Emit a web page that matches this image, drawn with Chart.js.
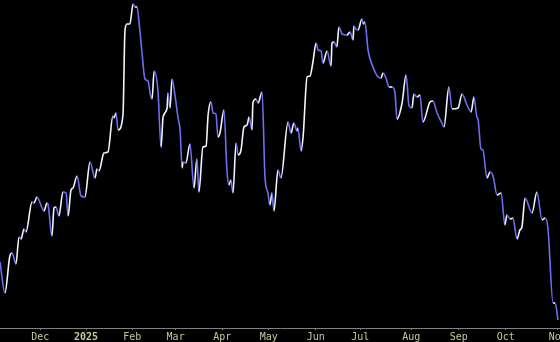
<!DOCTYPE html>
<html>
<head>
<meta charset="utf-8">
<script src="https://cdn.jsdelivr.net/npm/chart.js@4.4.1/dist/chart.umd.min.js"></script>
<style>
  html, body { margin: 0; padding: 0; background: #000; }
  #wrap { width: 560px; height: 342px; }
</style>
</head>
<body>
<div id="wrap"><canvas id="myChart"></canvas></div>
<script>
// trading day index and closing level
let days = [
  0, 2.2, 4.5, 5.4, 7.1, 8.5, 9.4, 10.7, 11.6, 14.3, 15.2, 16.5, 18.8, 19.6, 21.0, 21.4,
  23.2, 24.1, 25.0, 26.3, 28.1, 29.5, 30.4, 31.7, 32.6, 34.4, 36.2, 37.9, 40.2, 42.4, 43.3, 44.2,
  46.4, 48.2, 50.4, 50.9, 51.8, 52.7, 54.9, 55.8, 56.7, 58.0, 59.4, 60.3, 61.2, 62.1, 63.4, 64.7,
  66.1, 67.0, 67.9, 68.8, 70.5, 71.9, 72.8, 74.6, 75.0, 75.9, 76.8, 78.1, 79.5, 80.4, 81.3, 81.7,
  83.0, 84.8, 86.6, 87.9, 88.8, 90.6, 92.0, 92.9, 94.2, 95.1, 96.4, 97.3, 98.2, 100.0, 101.3, 102.2,
  103.1, 104.0, 105.4, 106.3, 107.6, 108.9, 110.3, 111.2, 112.5, 112.9, 114.3, 115.2, 117.0, 118.3, 119.6, 120.5,
  121.4, 122.3, 124.1, 125.4, 128.6, 129.9, 131.2, 132.6, 133.0, 134.4, 135.3, 137.1, 138.4, 139.7, 141.1, 142.0,
  143.3, 144.2, 146.0, 147.8, 148.2, 149.1, 150.4, 151.3, 152.7, 154.9, 156.3, 157.6, 158.0, 158.9, 159.8, 161.6,
  162.1, 162.9, 164.3, 166.5, 168.8, 170.1, 171.0, 172.3, 173.7, 175.0, 176.3, 177.2, 179.5, 181.3, 182.6, 183.9,
  184.8, 186.2, 187.5, 188.8, 192.0, 193.3, 195.1, 197.3, 198.2, 200.4, 201.8, 204.5, 206.3, 208.5, 210.3, 211.6,
  212.9, 213.4, 214.7, 215.6, 217.4, 218.8, 220.1, 221.9, 223.7, 225.4, 226.3, 227.7, 229.0, 230.8, 232.1, 233.0,
  234.4, 237.5, 239.7, 242.0, 243.3, 244.6, 246.9, 247.8, 249.1
];
let closes = [
  66, 35, 73, 75, 64, 91, 89, 99, 96, 126, 125, 131, 120, 117, 125, 124,
  92, 120, 121, 112, 136, 135, 112, 138, 140, 152, 132, 131, 166, 150, 159, 157,
  175, 176, 212, 210, 215, 198, 213, 298, 304, 304, 324, 321, 321, 305, 275, 249,
  247, 235, 229, 257, 238, 181, 211, 220, 235, 220, 249, 233, 210, 198, 160, 166,
  165, 184, 140, 169, 136, 181, 182, 213, 226, 215, 214, 191, 195, 218, 158, 143,
  148, 135, 185, 173, 178, 201, 203, 211, 198, 225, 229, 225, 236, 151, 135, 123,
  135, 117, 158, 150, 206, 195, 205, 197, 200, 177, 191, 251, 252, 266, 285, 278,
  277, 265, 277, 262, 285, 286, 281, 301, 294, 293, 296, 288, 302, 299, 298, 309,
  304, 306, 278, 261, 251, 250, 255, 250, 241, 241, 236, 209, 225, 253, 222, 220,
  234, 231, 233, 206, 226, 227, 215, 205, 201, 241, 219, 220, 234, 223, 216, 231,
  211, 209, 179, 178, 150, 156, 152, 133, 135, 103, 113, 109, 110, 89, 98, 101,
  130, 115, 136, 108, 110, 100, 25, 25, 8
];
// month starts on the trading day axis
let monthDays = [18, 38.4, 59, 78.4, 99.2, 120, 141, 160.8, 183.6, 204.8, 225.8, 249];
let monthLabels = ['Dec', '2025', 'Feb', 'Mar', 'Apr', 'May', 'Jun', 'Jul', 'Aug', 'Sep', 'Oct', 'Nov'];

function createChart(){
  const ctx = document.getElementById('myChart');
  const points = days.map((d, i) => ({ x: d, y: closes[i] }));

  new Chart(ctx, {
    type: 'line',
    data: {
      datasets: [{
        data: points,
        borderWidth: 1.6,
        pointRadius: 0,
        cubicInterpolationMode: 'monotone',
        borderColor: '#ffffff',
        segment: {
          borderColor: c => c.p1.parsed.y >= c.p0.parsed.y ? '#f4f4ff' : '#6e6ef2'
        }
      }]
    },
    options: {
      animation: false,
      responsive: true,
      maintainAspectRatio: false,
      layout: { padding: 0 },
      plugins: { legend: { display: false }, tooltip: { enabled: false } },
      scales: {
        x: {
          type: 'linear',
          min: 0,
          max: 250,
          afterBuildTicks: s => { s.ticks = monthDays.map(v => ({ value: v })); },
          afterFit: s => {
            s.height = 14;
            s.paddingLeft = 0;
            s.paddingRight = 0;
          },
          border: { display: true, color: '#808080', width: 1 },
          grid: { display: true, drawOnChartArea: false, drawTicks: true, tickLength: 2, color: '#808080' },
          ticks: {
            padding: 1,
            autoSkip: false,
            maxRotation: 0,
            color: '#c8c896',
            font: c => ({
              family: 'DejaVu Sans Mono',
              size: 10,
              weight: monthLabels[c.index] === '2025' ? 'bold' : 'normal'
            }),
            callback: (value, index) => monthLabels[index]
          }
        },
        y: {
          display: false,
          min: 0,
          max: 328
        }
      }
    }
  });
}
createChart();
</script>
</body>
</html>
